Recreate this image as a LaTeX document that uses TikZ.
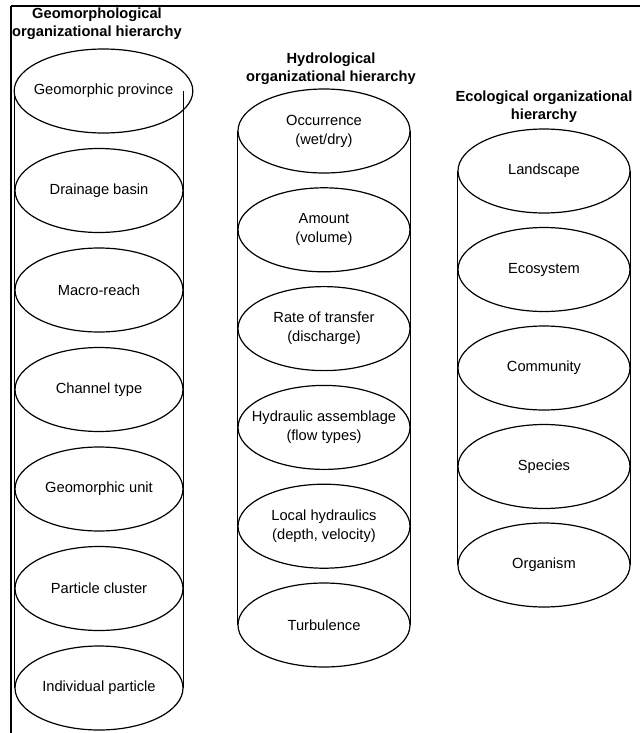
\documentclass[tikz,border=0pt]{standalone}
\usepackage{fontspec}
\setmainfont{Liberation Sans}
\usepackage{tikz}
\usetikzlibrary{shapes.geometric, positioning}

\begin{document}
\begin{tikzpicture}[
      x=0.75pt, y=-0.75pt,
      layer/.style={ellipse, draw, fill=white, line width=0.9pt, inner xsep=-30pt, inner ysep=0pt,
        minimum width=129pt, minimum height=63pt, align=center,
        font=\fontsize{11}{14.2}\selectfont},
      geolayer/.style={layer, minimum width=126pt},
      heading/.style={align=center, inner sep=0pt, font=\fontsize{11}{13.5}\selectfont\bfseries},
      side/.style={line width=0.9pt}
    ]
      \useasboundingbox (0,0) rectangle (640,733);
      \coordinate (topleft) at (11,6);
      \coordinate (topright) at (640,6);
      \coordinate (botleft) at (11,733);
      \draw[line width=1.5pt] (topleft) -- (topright);
      \draw[line width=1.1pt] (topleft) -- (botleft);

      \node[heading] (geotitle) at (97,24) {Geomorphological\\organizational hierarchy};
      \node[heading] (hydtitle) at (331,69) {Hydrological\\organizational hierarchy};
      \node[heading] (ecotitle) at (544,106.5) {Ecological organizational\\hierarchy};

      \node[geolayer, minimum width=134pt] (g1) at (103.5,91) {Geomorphic province};
      \node[geolayer] (g2) at (99,190.5) {Drainage basin};
      \node[geolayer] (g3) at (99,290) {Macro-reach};
      \node[geolayer] (g4) at (99,389.5) {Channel type};
      \node[geolayer] (g5) at (99,489) {Geomorphic unit};
      \node[geolayer] (g6) at (99,588.5) {Particle cluster};
      \node[geolayer] (g7) at (99,688) {Individual particle};

      \node[layer] (h1) at (324,131) {Occurrence\\(wet/dry)};
      \node[layer] (h2) at (324,229.8) {Amount\\(volume)};
      \node[layer] (h3) at (324,328.6) {Rate of transfer\\(discharge)};
      \node[layer] (h4) at (324,427.4) {Hydraulic assemblage\\(flow types)};
      \node[layer] (h5) at (324,526.2) {Local hydraulics\\(depth, velocity)};
      \node[layer] (h6) at (324,625) {Turbulence};

      \node[layer] (e1) at (544,171) {Landscape};
      \node[layer] (e2) at (544,269.5) {Ecosystem};
      \node[layer] (e3) at (544,368) {Community};
      \node[layer] (e4) at (544,466.5) {Species};
      \node[layer] (e5) at (544,565) {Organism};

      \draw[side] (g2.west |- g1.center) -- (g7.west);
      \draw[side] (g2.east |- g1.center) -- (g7.east);
      \draw[side] (h1.west) -- (h6.west);
      \draw[side] (h1.east) -- (h6.east);
      \draw[side] (e1.west) -- (e5.west);
      \draw[side] (e1.east) -- (e5.east);
    \end{tikzpicture}
\end{document}
